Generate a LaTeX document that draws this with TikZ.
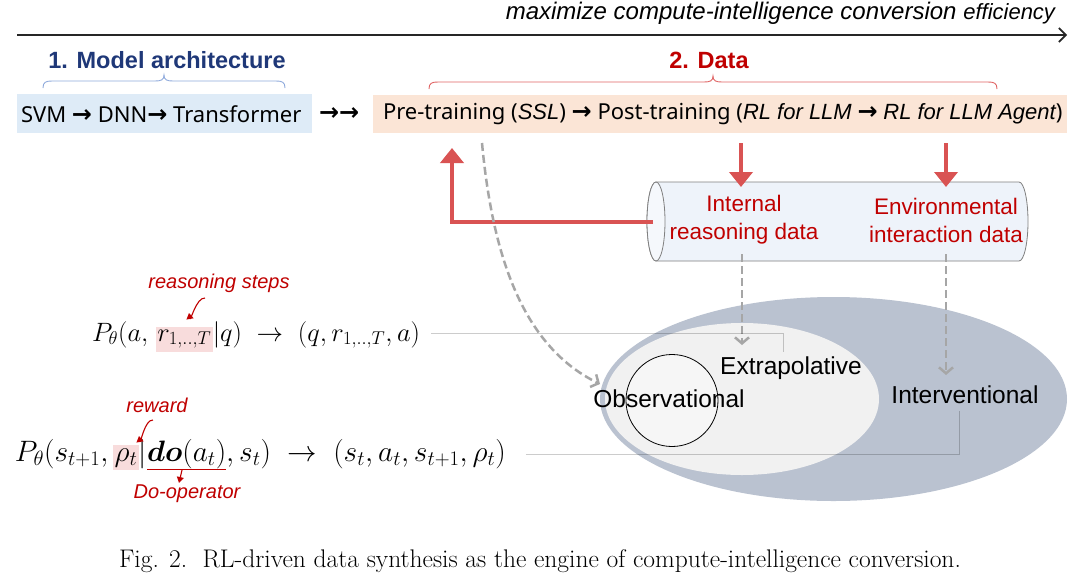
\RequirePackage{fix-cm}
\documentclass[tikz,border=0pt]{standalone}
\usepackage{amsmath}
\usepackage{bm}
\usepackage{fontspec}
\usetikzlibrary{arrows.meta}
\newfontfamily\arialf{Liberation Sans}
\newfontfamily\yaheif{Noto Sans}
\newfontfamily\djvf{DejaVu Sans}
\newcommand\myarr{{\djvf\bfseries\fontsize{24}{26}\selectfont →}}
\definecolor{navy}{RGB}{31,56,120}
\definecolor{redT}{RGB}{192,0,0}
\definecolor{redA}{RGB}{217,83,83}
\definecolor{blueBr}{RGB}{143,170,220}
\definecolor{redBr}{RGB}{224,100,100}
\definecolor{blueBox}{RGB}{222,235,247}
\definecolor{orBox}{RGB}{251,229,214}
\definecolor{cylF}{RGB}{238,243,250}
\definecolor{cylCap}{RGB}{245,248,252}
\definecolor{cylB}{RGB}{128,128,128}
\definecolor{dashG}{RGB}{166,166,166}
\definecolor{bigE}{RGB}{186,194,208}
\definecolor{innE}{RGB}{241,241,241}
\definecolor{circF}{RGB}{246,246,246}
\definecolor{pinkhl}{RGB}{248,220,220}
\begin{document}
\begin{tikzpicture}[x=1pt,y=-1pt,
  every node/.style={inner sep=0pt, outer sep=0pt},
  fml/.style={font=\fontsize{26.5}{30}\selectfont, anchor=base west},
  fmlb/.style={font=\fontsize{29.5}{34}\selectfont, anchor=base west},
  hl/.style={fill=pinkhl, inner xsep=1.5pt, inner ysep=3pt},
  note/.style={font=\arialf\itshape\fontsize{20}{24}\selectfont, text=redT},
  notearr/.style={draw=redT, line width=1.1pt, -{Triangle[length=6pt,width=7pt]}},
  redarr/.style={draw=redA, line width=4pt, -{Triangle[length=15pt,width=23pt]}},
  dasharr/.style={draw=dashG, line width=2.5pt, dash pattern=on 8pt off 4pt, -{Straight Barb[length=6pt,width=14pt]}},
  guide/.style={draw=black, draw opacity=0.2, line width=1pt},
  bracestyle/.style={line width=0.9pt},
  ellabel/.style={font=\arialf\fontsize{24.5}{28}\selectfont, anchor=base},
  cyltext/.style={font=\arialf\fontsize{22.5}{28}\selectfont, text=redT, align=center},
  boxtext/.style={font=\yaheif\fontsize{22}{26}\selectfont, anchor=west},
  heading/.style={font=\arialf\bfseries\fontsize{23.5}{27}\selectfont},
]
\useasboundingbox[fill=white] (0,0) rectangle (1080,587);

% ---- top arrow
\coordinate (tA) at (17,35);
\coordinate (tB) at (1067,35);
\draw[line width=1.6pt, black!85, -{Straight Barb[length=7pt,width=14pt]}] (tA) -- (tB);
\node[anchor=base east, font=\arialf\itshape\fontsize{24}{27}\selectfont] (goal) at (1055,19)
  {maximize compute-intelligence conversion {\fontsize{22}{25}\selectfont efficiency}};

% ---- headings and braces
\node[heading, text=navy] (h1) at (167,60) {1. Model architecture};
\draw[bracestyle, draw=blueBr] (43,88) .. controls (43,82) and (46,81) .. (52,81) -- (155,81)
  .. controls (161,81) and (164,80) .. (164,75) .. controls (164,80) and (167,81) .. (173,81)
  -- (276,81) .. controls (282,81) and (285,82) .. (285,88);
\node[heading, text=redT] (h2) at (709,60) {2. Data};
\draw[bracestyle, draw=redBr] (429,89) .. controls (429,83) and (432,82) .. (438,82) -- (704,82)
  .. controls (710,82) and (713,81) .. (713,76) .. controls (713,81) and (716,82) .. (722,82)
  -- (988,82) .. controls (994,82) and (997,83) .. (997,89);

% ---- boxes
\node[fill=blueBox, minimum width=295pt, minimum height=39pt, anchor=north west] (arch) at (17,94) {};
\node[boxtext] (archtxt) at (21,114) {SVM \myarr{} DNN\myarr{} Transformer};
\node[boxtext] (dbl) at (319,114) {\myarr\myarr};
\node[fill=orBox, minimum width=694pt, minimum height=38pt, anchor=north west] (data) at (373,95) {};
\node[boxtext] (datatxt) at (383,114) {Pre-training ({\arialf\itshape SSL}) \myarr{} Post-training ({\arialf\itshape RL for LLM} \myarr{} {\arialf\itshape RL for LLM Agent})};

% ---- ellipses
\fill[bigE] (833.5,399) ellipse[x radius=233.5, y radius=102];
\fill[innE] (742,399) ellipse[x radius=137, y radius=76];
\filldraw[fill=circF, draw=black, line width=0.8pt] (672,400.5) circle[radius=46];
\node[ellabel] (obs) at (669,407) {Observational};
\node[ellabel] (ext) at (791,374) {Extrapolative};
\node[ellabel] (int) at (965,403) {Interventional};

% ---- cylinder
\filldraw[fill=cylF, draw=cylB, line width=0.8pt] (656,182) -- (1019,182)
  arc[start angle=-90, end angle=90, x radius=9, y radius=39.5] -- (656,261)
  arc[start angle=90, end angle=270, x radius=9, y radius=39.5] -- cycle;
\filldraw[fill=cylCap, draw=cylB, line width=0.8pt] (656,221.5) ellipse[x radius=9, y radius=39.5];
\node[minimum width=381pt, minimum height=79pt] (cyl) at (837.5,221.5) {};
\node[cyltext] (irt) at (744,220) {Internal\\reasoning data};
\node[cyltext] (eit) at (946,220) {Environmental\\interaction data};

% ---- red arrows
\coordinate (r1s) at (741,143); \coordinate (r1e) at (741,187);
\coordinate (r2s) at (946,143); \coordinate (r2e) at (946,187);
\coordinate (upTip) at (452,148);
\draw[redarr] (r1s) -- (r1e);
\draw[redarr] (r2s) -- (r2e);
\draw[redarr] ([xshift=6pt]cyl.west) -| (upTip);

% ---- dashed arrows
\coordinate (d1s) at (742,254); \coordinate (d1e) at (742,345);
\coordinate (d2s) at (946,254); \coordinate (d2e) at (946,375);
\coordinate (d3s) at (482,143); \coordinate (d3e) at (600,384);
\draw[dasharr] (d1s) -- (d1e);
\draw[dasharr] (d2s) -- (d2e);
\draw[dasharr] (d3s) .. controls (492,250) and (520,345) .. (d3e);

% ---- formula 1
\node[fml] (f1a) at (92,341) {$P_\theta(a,\;$};
\node[fml, hl] (f1r) at (f1a.base east) {$r_{1,..,T}$};
\node[fml] (f1b) at (f1r.base east) {$|q)\;\to\;(q,r_{1,..,T},a)$};
\node[note] (n1) at (219,283) {reasoning steps};
\draw[notearr] (205,298) to[out=175, in=-80] (189,313);

% ---- formula 2
\node[fmlb] (f2a) at (15,461) {$P_\theta(s_{t+1},\,$};
\node[fmlb, hl] (f2r) at (f2a.base east) {$\rho_t$};
\node[fmlb] (f2b) at (f2r.base east) {$|$};
\node[fmlb] (f2do) at (f2b.base east) {$\bm{do}(a_t)$};
\node[fmlb] (f2c) at (f2do.base east) {$,s_t)\;\to\;(s_t,a_t,s_{t+1},\rho_t)$};
\node[note] (n2) at (157,405) {reward};
\draw[notearr] (153,420) to[out=175, in=-80] (139,436);
\draw[draw=redT, line width=1pt] ([yshift=-1pt]f2do.south west) -- ([yshift=-1pt]f2do.south east);
\coordinate (dos) at (182,470); \coordinate (doe) at (179,483);
\draw[notearr] (dos) -- (doe);
\node[note] (n3) at (187,494) {Do-operator};

% ---- guide lines
\coordinate (g1c) at (783,333); \coordinate (g1e) at (783,352);
\draw[guide] ([xshift=11pt]f1b.east |- g1c) -- (g1c) -- (g1e);
\coordinate (g2c) at (959,454); \coordinate (g2e) at (959,411);
\draw[guide] ([xshift=20pt]f2c.east |- g2c) -- (g2c) -- (g2e);

% ---- caption
\node[anchor=base, font=\fontsize{25.5}{29}\selectfont] (cap) at (540,567)
  {Fig. 2.\ \ RL-driven data synthesis as the engine of compute-intelligence conversion.};
\end{tikzpicture}
\end{document}
